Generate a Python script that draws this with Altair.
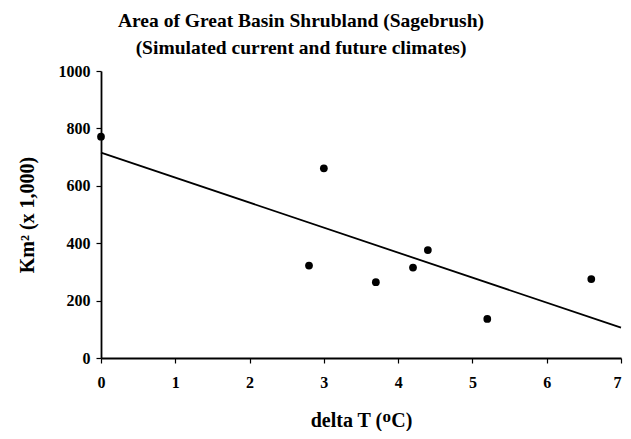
import altair as alt
import pandas as pd

delta_t = [0, 2.8, 3.0, 3.7, 4.2, 4.4, 5.2, 6.6]
area = [771, 322, 661, 264, 315, 376, 136, 275]

df = pd.DataFrame({"dt": delta_t, "area": area})

FONT = "Liberation Serif"

x = alt.X("dt:Q", title="delta T (ᴼC)",
          scale=alt.Scale(domain=[0, 7], nice=False, zero=False),
          axis=alt.Axis(values=list(range(0, 8)), format="d",
                        labelAlign={"expr": "datum.value == 7 ? 'right' : 'center'"}))
y = alt.Y("area:Q", title="Km² (x 1,000)",
          scale=alt.Scale(domain=[0, 1000], nice=False),
          axis=alt.Axis(values=list(range(0, 1001, 200)), format="d"))

points = alt.Chart(df).mark_circle(size=60, color="black", opacity=1).encode(x=x, y=y)

trend = alt.Chart(df).transform_regression(
    "dt", "area", extent=[0, 7]
).mark_line(color="black", strokeWidth=1.8).encode(x=x, y=y)

chart = alt.layer(trend, points).properties(
    width=520, height=287,
    autosize=alt.AutoSizeParams(type="none"),
    padding={"left": 93, "top": 63, "right": 2, "bottom": 73},
    title=alt.TitleParams(
        text="Area of Great Basin Shrubland (Sagebrush)",
        subtitle="(Simulated current and future climates)",
        font=FONT, fontSize=19.5, fontWeight="bold", color="black",
        subtitleFont=FONT, subtitleFontSize=19.5, subtitleFontWeight="bold",
        subtitleColor="black", subtitlePadding=7,
        anchor="middle", dx=-60, offset=5,
    ),
).configure_view(stroke=None).configure_axis(
    grid=False, labelFlush=False,
    domainColor="black", domainWidth=1.8,
    tickColor="black", tickWidth=1.2, tickSize=5,
    labelFont=FONT, labelFontSize=16, labelFontWeight="bold", labelColor="black",
    titleFont=FONT, titleFontSize=20, titleFontWeight="bold", titleColor="black",
).configure_axisX(labelPadding=11, titlePadding=20).configure_axisY(labelPadding=6, titlePadding=21)

chart.save("out.html", embed_options={"renderer": "svg", "actions": False})
